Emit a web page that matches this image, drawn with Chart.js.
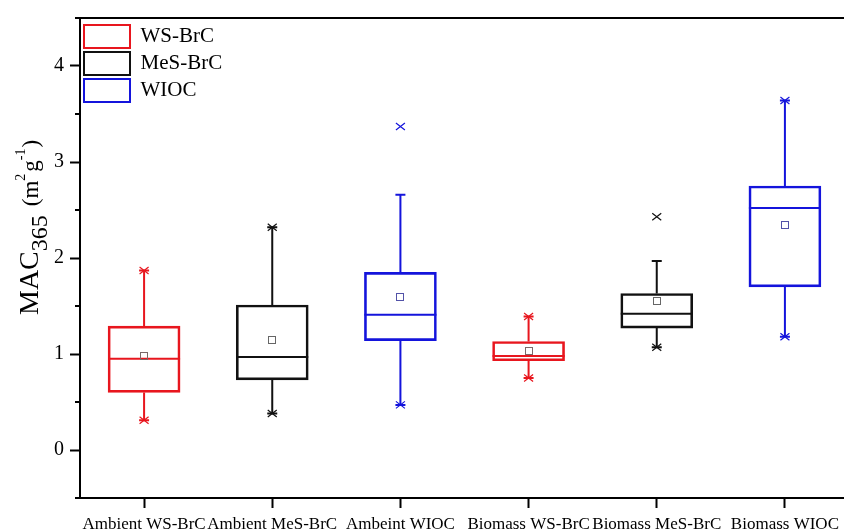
<!DOCTYPE html>
<html>
<head>
<meta charset="utf-8">
<title>MAC365 box plot</title>
<script src="https://cdn.jsdelivr.net/npm/chart.js@4.4.1/dist/chart.umd.min.js"></script>
<style>
  html, body { margin: 0; padding: 0; background: #fff; overflow: hidden; }
  #wrap { width: 844px; height: 531px; overflow: hidden; }
  #wrap canvas { display: block; }
</style>
</head>
<body>
<div id="wrap"><canvas id="mac-box" width="850" height="531"></canvas></div>
<script>
const categories = ['Ambient WS-BrC', 'Ambient MeS-BrC', 'Ambeint WIOC', 'Biomass WS-BrC', 'Biomass MeS-BrC', 'Biomass WIOC']
const groups = ['WS-BrC', 'MeS-BrC', 'WIOC']
const groupOf = [0, 1, 2, 0, 1, 2]

// box statistics
const q1 = [0.60, 0.73, 1.14, 0.93, 1.27, 1.70]
const q3 = [1.29, 1.51, 1.85, 1.13, 1.63, 2.75]
const median = [0.95, 0.97, 1.41, 0.98, 1.42, 2.52]
const mean = [0.98, 1.15, 1.59, 1.03, 1.55, 2.34]
const whiskerLow = [0.31, 0.38, 0.47, 0.75, 1.07, 1.18]
const whiskerHigh = [1.87, 2.32, 2.66, 1.39, 1.97, 3.64]
const crossLow = [0.31, 0.38, 0.47, 0.75, 1.07, 1.18]
const crossHigh = [1.87, 2.32, 3.37, 1.39, 2.43, 3.64]

const yTicks = [0, 1, 2, 3, 4]

const groupColors = ['#e8161e', '#111111', '#1414dc']
const meanColors = ['#7a6a6a', '#666666', '#5252a8']
const serif = "'Liberation Serif', 'Times New Roman', serif"

const datasets = groups.map((name, g) => ({
  label: name,
  data: categories.map((_, i) => (groupOf[i] === g ? [q1[i], q3[i]] : null)),
  backgroundColor: 'rgba(255,255,255,0)',
  borderColor: groupColors[g],
  borderWidth: 2,
  borderSkipped: false,
  barThickness: 72,
  grouped: false,
}))

// whiskers, caps, medians, means and the x marks
const boxExtras = {
  id: 'boxExtras',
  afterLayout(chart) {
    // legend sits inside the plot, just below the top frame
    const lg = chart.legend
    const shift = chart.chartArea.top + 3
    lg.top += shift
    lg.bottom += shift
  },
  afterDatasetsDraw(chart) {
    const { ctx, scales: { x, y } } = chart
    ctx.save()
    categories.forEach((_, i) => {
      const g = groupOf[i]
      const color = groupColors[g]
      const bar = chart.getDatasetMeta(g).data[i]
      const cx = x.getPixelForValue(i)
      const half = bar.width / 2

      ctx.strokeStyle = color
      ctx.lineWidth = 2
      ctx.beginPath()
      ctx.moveTo(cx, y.getPixelForValue(q3[i]))
      ctx.lineTo(cx, y.getPixelForValue(whiskerHigh[i]))
      ctx.moveTo(cx, y.getPixelForValue(q1[i]))
      ctx.lineTo(cx, y.getPixelForValue(whiskerLow[i]))
      // caps
      ;[whiskerHigh[i], whiskerLow[i]].forEach(v => {
        const py = y.getPixelForValue(v)
        ctx.moveTo(cx - 5, py)
        ctx.lineTo(cx + 5, py)
      })
      // median
      const my = y.getPixelForValue(median[i])
      ctx.moveTo(cx - half, my)
      ctx.lineTo(cx + half, my)
      ctx.stroke()

      // 1% / 99% crosses
      ctx.lineWidth = 1.2
      ctx.beginPath()
      ;[crossLow[i], crossHigh[i]].forEach(v => {
        const py = y.getPixelForValue(v)
        ctx.moveTo(cx - 4.5, py - 3.5)
        ctx.lineTo(cx + 4.5, py + 3.5)
        ctx.moveTo(cx - 4.5, py + 3.5)
        ctx.lineTo(cx + 4.5, py - 3.5)
      })
      ctx.stroke()

      // mean square
      ctx.strokeStyle = meanColors[g]
      ctx.lineWidth = 1
      const py = Math.round(y.getPixelForValue(mean[i]))
      ctx.strokeRect(Math.round(cx) - 3.5, py - 3.5, 7, 7)
    })
    ctx.restore()
  },
  afterDraw(chart) {
    const { ctx, chartArea, scales: { y } } = chart
    ctx.save()
    // frame top and right
    ctx.strokeStyle = '#000'
    ctx.lineWidth = 2
    ctx.beginPath()
    ctx.moveTo(chartArea.left - 1, chartArea.top)
    ctx.lineTo(chartArea.right, chartArea.top)
    ctx.lineTo(chartArea.right, chartArea.bottom)
    ctx.stroke()
    // minor ticks on y
    ctx.beginPath()
    for (let v = -0.5; v <= 4.5; v += 1) {
      const py = y.getPixelForValue(v)
      ctx.moveTo(chartArea.left - 5, py)
      ctx.lineTo(chartArea.left, py)
    }
    ctx.stroke()

    // y title: MAC365 (m2 g-1) with sub/superscripts
    const parts = [
      ['MAC', 28, 0, 0],
      ['365', 24, 9, 9],
      ['(m', 23, 0, 0],
      ['2', 14, -13, 2],
      ['g', 23, 0, 0],
      ['-1', 14, -13, 1],
      [')', 23, 0, 0],
    ]
    ctx.translate(38, 315)
    ctx.rotate(-Math.PI / 2)
    ctx.fillStyle = '#000'
    ctx.textBaseline = 'alphabetic'
    ctx.textAlign = 'left'
    let cursor = 0
    parts.forEach(([text, size, shift, gap]) => {
      ctx.font = `${size}px ${serif}`
      ctx.fillText(text, cursor, shift)
      cursor += ctx.measureText(text).width + gap
    })
    ctx.restore()
  },
}

new Chart(document.getElementById('mac-box').getContext('2d'), {
  type: 'bar',
  data: { labels: categories, datasets },
  options: {
    responsive: false,
    animation: false,
    layout: { padding: { top: 15, right: 1, left: 0, bottom: 0 } },
    plugins: {
      legend: {
        position: 'chartArea',
        align: 'start',
        labels: {
          boxWidth: 46,
          boxHeight: 23,
          padding: 4,
          color: '#000',
          font: { family: serif, size: 21 },
        },
      },
      tooltip: { enabled: false },
    },
    scales: {
      x: {
        offset: true,
        grid: { offset: false, drawOnChartArea: false, tickLength: 10, tickWidth: 2, tickColor: '#000' },
        border: { color: '#000', width: 2 },
        ticks: { color: '#000', padding: 6, autoSkip: false, maxRotation: 0, font: { family: serif, size: 17 } },
        afterFit: scale => { scale.height = 33 },
      },
      y: {
        min: -0.5,
        max: 4.5,
        grid: {
          drawOnChartArea: false,
          tickLength: 10,
          tickWidth: 2,
          tickColor: ctx => (yTicks.includes(ctx.tick.value) ? '#000' : 'rgba(0,0,0,0)'),
        },
        border: { color: '#000', width: 2 },
        ticks: {
          stepSize: 0.5,
          padding: 6,
          color: '#000',
          font: { family: serif, size: 20 },
          callback: v => (yTicks.includes(v) ? String(v) : ''),
        },
        afterFit: scale => { scale.width = 80 },
      },
    },
  },
  plugins: [boxExtras],
})
</script>
</body>
</html>
